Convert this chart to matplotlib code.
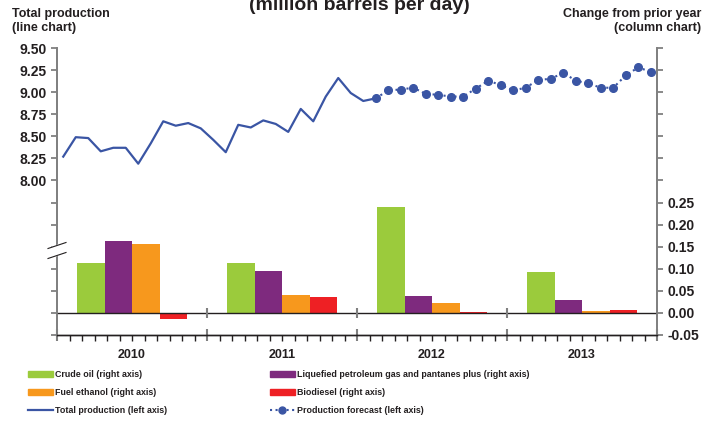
import numpy as np
import matplotlib
matplotlib.use("Agg")
from matplotlib import pyplot as plt
from matplotlib.patches import Patch, Polygon
from matplotlib.lines import Line2D

plt.rcParams['font.family'] = ['Liberation Sans', 'DejaVu Sans']
plt.rcParams['font.weight'] = 'bold'
plt.rcParams['axes.unicode_minus'] = False

# data
years = ['2010', '2011', '2012', '2013']
crude_oil = [0.114, 0.114, 0.239, 0.093]
lpg = [0.164, 0.096, 0.039, 0.030]
ethanol = [0.155, 0.041, 0.023, 0.005]
biodiesel = [-0.013, 0.036, 0.001, 0.007]

# total production, Jan 2010 - Feb 2012
prod_hist = [8.27, 8.49, 8.48, 8.33, 8.37, 8.37, 8.19, 8.42, 8.67, 8.62, 8.65, 8.59,
             8.46, 8.32, 8.63, 8.60, 8.68, 8.64, 8.55, 8.81, 8.67, 8.95, 9.16, 8.99,
             8.90, 8.93]
# forecast, Feb 2012 - Dec 2013
prod_fcst = [8.93, 9.02, 9.03, 9.05, 8.98, 8.97, 8.95, 8.95, 9.04, 9.13, 9.08,
             9.02, 9.05, 9.14, 9.15, 9.22, 9.13, 9.10, 9.05, 9.05, 9.19, 9.28, 9.23]

bar_series = [crude_oil, lpg, ethanol, biodiesel]
bar_colors = ['#9bcb3c', '#7e2a7e', '#f7981d', '#ee2024']
bar_names = ['Crude oil (right axis)',
             'Liquefied petroleum gas and pantanes plus (right axis)',
             'Fuel ethanol (right axis)', 'Biodiesel (right axis)']
line_color = '#3a55a4'
txt = '#231f20'
grey = '#808080'

W, H = 704, 422
fig = plt.figure(figsize=(W / 100, H / 100), dpi=100)
ax = fig.add_axes([57 / W, 1 - 335 / H, 600 / W, 287 / H])
ax2 = ax.twinx()

# columns (right axis), months on x
n_months = 12 * len(years)
bar_w = 2.2
for k, (vals, col) in enumerate(zip(bar_series, bar_colors)):
    xs = [12 * i + 1.6 + bar_w * (k + 0.5) for i in range(len(years))]
    ax2.bar(xs, vals, width=bar_w, color=col, linewidth=0)
ax2.axhline(0, color=txt, lw=1)
ax2.vlines([12 * i for i in range(1, len(years))], -0.011, 0.011, color=grey, lw=1.5)

# lines (left axis)
xh = np.arange(len(prod_hist)) + 0.5
xf = np.arange(len(prod_fcst)) + len(prod_hist) - 0.5
ax.plot(xh, prod_hist, color=line_color, lw=1.6)
ax.plot(xf, prod_fcst, color=line_color, lw=1.5, ls=':', marker='o', ms=5.5)

ax.set_xlim(0, n_months)
ax.set_ylim(6.25, 9.5)
ax2.set_ylim(-0.05, 0.60)

lt = np.round(np.arange(6.25, 9.51, 0.25), 2)
ax.set_yticks(lt)
ax.set_yticklabels([f"{v:.2f}" if v >= 8 else "" for v in lt])
rt = np.round(np.arange(-0.05, 0.601, 0.05), 2)
ax2.set_yticks(rt)
ax2.set_yticklabels([f"{v:.2f}" if v <= 0.25 else "" for v in rt])

for a in (ax, ax2):
    a.tick_params(axis='y', length=4, width=1.3, color=grey, labelsize=10,
                  labelcolor=txt, pad=3.5)
    a.spines['top'].set_visible(False)
    a.spines['left'].set_color(grey)
    a.spines['right'].set_color(grey)
    a.spines['left'].set_linewidth(1.3)
    a.spines['right'].set_linewidth(1.3)
    a.spines['bottom'].set_color(txt)
    a.spines['bottom'].set_linewidth(1)

ax.set_xticks([12 * i for i in range(len(years) + 1)])
ax.set_xticks(range(n_months + 1), minor=True)
ax.tick_params(axis='x', which='major', direction='inout', length=9, width=1.5,
               color=grey, labelbottom=False)
ax.tick_params(axis='x', which='minor', direction='out', length=4, width=1, color=txt)

for i, y in enumerate(years):
    ax.text(12 * i + 6, -0.05, y, transform=ax.get_xaxis_transform(),
            ha='center', va='top', fontsize=9, color=txt)

# axis break mark on the left axis
fp = lambda x, y: (x / W, 1 - y / H)
fig.add_artist(Polygon([fp(48, 248.5), fp(66, 242.5), fp(66, 252.5), fp(48, 258.5)],
                       closed=True, transform=fig.transFigure, color='white', zorder=5))
for y0 in (248.5, 258.5):
    fig.add_artist(Line2D([48 / W, 66 / W], [1 - y0 / H, 1 - (y0 - 6) / H],
                          transform=fig.transFigure, color=txt, lw=0.8, zorder=6))

fig.text(359 / W, 1 - 10 / H, '(million barrels per day)', ha='center', va='baseline',
         fontsize=14, color=txt)
fig.text(12 / W, 1 - 8 / H, 'Total production\n(line chart)', ha='left', va='top',
         fontsize=9, color=txt, linespacing=1.25)
fig.text(701 / W, 1 - 8 / H, 'Change from prior year\n(column chart)', ha='right',
         va='top', fontsize=9, color=txt, linespacing=1.25, multialignment='right')

leg_font = {'family': 'Liberation Sans', 'weight': 'bold', 'size': 6.4}

h_crude = Patch(color=bar_colors[0])
h_lpg = Patch(color=bar_colors[1])
h_eth = Patch(color=bar_colors[2])
h_bio = Patch(color=bar_colors[3])
h_tot = Line2D([], [], color=line_color, lw=1.6)
h_fc = Line2D([], [], color=line_color, lw=1.5, ls=':', marker='o', ms=5)

leg_kw = dict(frameon=False, loc='upper left', borderpad=0, borderaxespad=0,
              handlelength=2.8, handleheight=0.7, handletextpad=0.25,
              labelspacing=1.0, prop=leg_font, labelcolor=txt)
fig.legend([h_crude, h_eth, h_tot], [bar_names[0], bar_names[2], 'Total production (left axis)'],
           bbox_to_anchor=fp(28, 370), **leg_kw)
fig.legend([h_lpg, h_bio, h_fc], [bar_names[1], bar_names[3], 'Production forecast (left axis)'],
           bbox_to_anchor=fp(270, 370), **leg_kw)

fig.savefig('out.png', dpi=100)
